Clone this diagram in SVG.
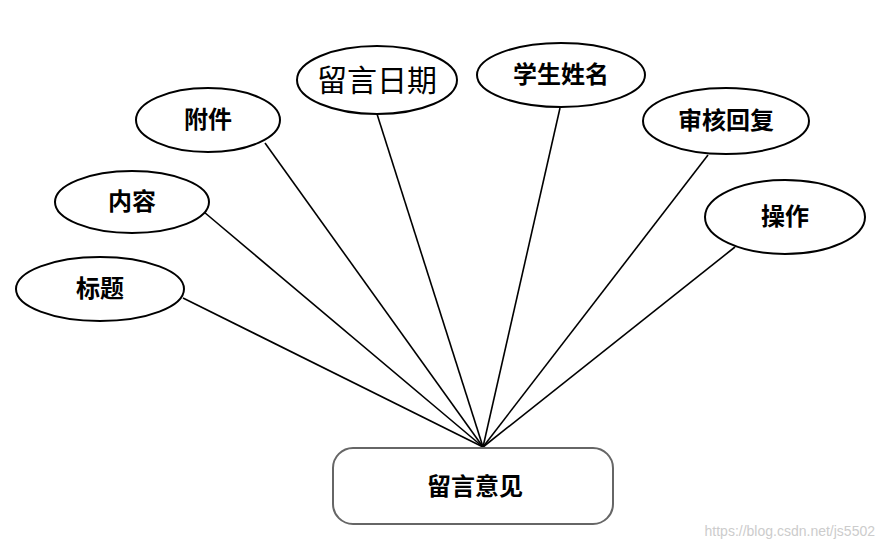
<svg xmlns="http://www.w3.org/2000/svg" width="886" height="550" viewBox="0 0 886 550">
<style>
.n{fill:#fff;stroke:#000;stroke-width:2}
.t{font-family:"Liberation Serif","Noto Sans CJK SC",serif;font-size:24px;font-weight:bold;text-anchor:middle;dominant-baseline:central}
.c line{stroke:#000;stroke-width:1.6}
</style>
<rect width="886" height="550" fill="#fff"/>
<g class="c">
<line x1="183" y1="298" x2="483" y2="447"/>
<line x1="204" y1="212" x2="483" y2="447"/>
<line x1="265" y1="143" x2="483" y2="447"/>
<line x1="377" y1="114" x2="483" y2="447"/>
<line x1="560" y1="108" x2="483" y2="447"/>
<line x1="708" y1="155" x2="483" y2="447"/>
<line x1="735" y1="247" x2="483" y2="447"/>
</g>
<g id="biaoti"><ellipse class="n" cx="100" cy="289" rx="84" ry="32"/><text class="t" x="100" y="289">标题</text></g>
<g id="neirong"><ellipse class="n" cx="132" cy="202" rx="77" ry="31"/><text class="t" x="132" y="202">内容</text></g>
<g id="fujian"><ellipse class="n" cx="208" cy="120" rx="72" ry="32"/><text class="t" x="208" y="120">附件</text></g>
<g id="riqi"><ellipse class="n" cx="377" cy="80" rx="80" ry="34"/><text class="t" x="377" y="80" style="font-weight:normal;font-size:30px">留言日期</text></g>
<g id="xingming"><ellipse class="n" cx="561" cy="75" rx="84" ry="32"/><text class="t" x="561" y="75">学生姓名</text></g>
<g id="huifu"><ellipse class="n" cx="726" cy="121" rx="83" ry="33"/><text class="t" x="726" y="121">审核回复</text></g>
<g id="caozuo"><ellipse class="n" cx="785" cy="217" rx="80" ry="37"/><text class="t" x="785" y="217">操作</text></g>
<g id="main"><rect x="333" y="448" width="280" height="76" rx="20" fill="#fff" stroke="#666" stroke-width="2"/><text class="t" x="475" y="487">留言意见</text></g>
<text x="875" y="536" font-family="Liberation Sans,sans-serif" font-size="14" fill="#ccc" text-anchor="end">https://blog.csdn.net/js5502</text>
</svg>
